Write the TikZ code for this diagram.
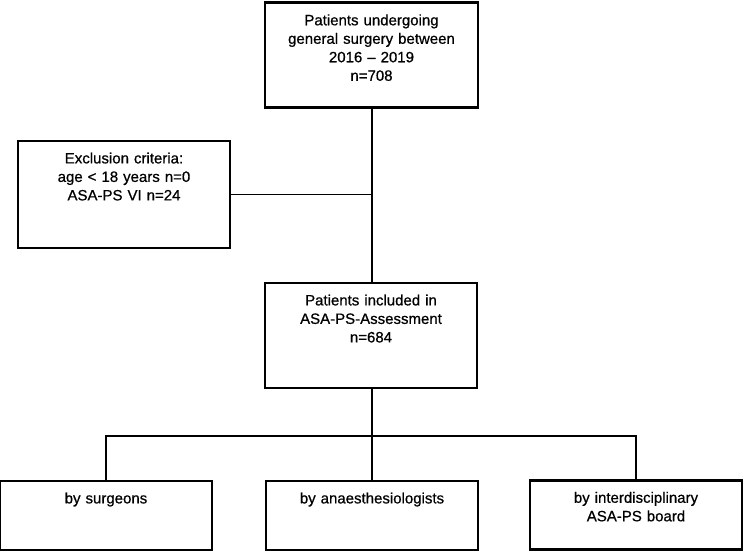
\documentclass[tikz,border=0pt]{standalone}
\usepackage{fontspec}
\setmainfont{Liberation Sans}
\newfontfamily\boxfont[FakeBold=0.7,Ligatures=TeX]{Liberation Sans}
\begin{document}
\begin{tikzpicture}[x=1pt,y=-1pt,thick,
	flow box/.style={draw,line width=1.8pt,anchor=north,inner sep=0pt,text width=#1,align=center,text height=22.5pt,font=\boxfont\fontsize{15}{18.5}\selectfont},
	flow box/.default=212pt,
	heavy/.style={line width=2.6pt},
	link/.style={line width=1.3pt}]

	\useasboundingbox (0,0) rectangle (744,553);

	\node[flow box=213pt,heavy,text depth=82pt] (total) at (371.5,1.5) {Patients undergoing\\general surgery between\\2016 – 2019\\n=708};
	\node[flow box,text depth=84.5pt] (excl) at (124,140) {Exclusion criteria:\\age < 18 years n=0\\ASA-PS VI n=24};
	\node[flow box,text depth=82.5pt] (incl) at (371,282) {Patients included in\\ASA-PS-Assessment\\n=684};

	\node[flow box,text depth=46.5pt] (surg) at (106,480) {by surgeons};
	\node[flow box,text depth=46.5pt] (anae) at (372,480) {by anaesthesiologists};
	\node[flow box,heavy,text depth=46.5pt] (board) at (636,479) {by interdisciplinary\\ASA-PS board};

	\coordinate (bend) at (372,162);
	\coordinate (split) at (372,436);
	%\coordinate (join) at (372,193);

	\draw[heavy] (total.south -| bend) -- (bend);
	\draw[link] (bend) -- (incl.north -| bend);
	\draw[link] (excl.east) -- (excl.east -| bend);
	\draw[link] (incl.south -| split) -- (split);
	\draw[link] (surg.north) |- (split) -| (board.north);
	\draw[link] (split) -- (anae.north);

\end{tikzpicture}
\end{document}
